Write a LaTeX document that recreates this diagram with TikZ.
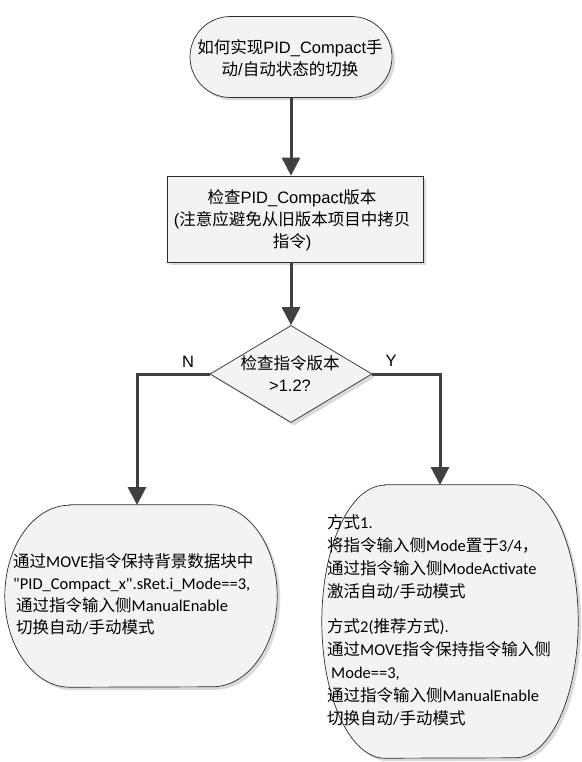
\documentclass[tikz,border=0pt]{standalone}
\usepackage{fontspec}
\newfontfamily\calf{Carlito}
\newfontfamily\arialf{Liberation Sans}
\newfontfamily\cjkf{Noto Sans CJK SC}
\newcommand\C[1]{{\cjkf #1}}
\usetikzlibrary{arrows.meta,shapes.geometric,shapes.misc,shadows,calc}
\definecolor{boxfill}{RGB}{242,243,242}
\definecolor{boxline}{RGB}{45,45,45}
\definecolor{shadowc}{RGB}{218,218,218}
\definecolor{connc}{RGB}{64,64,64}
\tikzset{
  shapebox/.style={fill=boxfill, draw=boxline, line width=0.7pt,
    drop shadow={shadow xshift=3pt, shadow yshift=-3pt, fill=shadowc, opacity=1}},
  conn/.style={draw=connc, line width=3pt, -{Triangle[width=18pt,length=18pt]}},
  txt/.style={font=\fontsize{16.5pt}{22pt}\selectfont\calf, inner sep=0pt},
  atxt/.style={inner sep=0pt, font=\fontsize{16.5pt}{22pt}\selectfont\arialf},
}
\begin{document}
\begin{tikzpicture}[x=1pt,y=1pt]
\useasboundingbox (0,0) rectangle (581,-762);

% top terminator
\node[shapebox, rounded rectangle, minimum width=202pt, minimum height=81pt, inner sep=0pt] (T) at (291,-57) {};
\node[atxt, align=center] (Tt) at (290,-58) {\C{如何实现}PID\_Compact\C{手}\\\C{动}/\C{自动状态的切换}};

% rectangle
\node[shapebox, rectangle, minimum width=256pt, minimum height=86pt, inner sep=0pt] (B) at (295,-219) {};
\node[atxt, align=center] (Bt) at (292,-220) {\C{检查}PID\_Compact\C{版本}\\(\C{注意应避免从旧版本项目中拷贝}\\\C{指令})};

% diamond
\node[shapebox, diamond, aspect=1.67, minimum width=162pt, minimum height=97pt, inner sep=0pt] (D) at (291,-374) {};
\node[atxt, align=center] (Dt) at (290,-374) {\C{检查指令版本}\\>1.2?};

% labels
\node[atxt] (N) at (188,-362) {N};
\node[atxt] (Y) at (391,-361) {Y};

% left result
\node[minimum width=272pt, minimum height=182pt, inner sep=0pt] (L) at (141,-596) {};
\path[shapebox] ($(L.north west)+(65,0)$) -- ($(L.north east)+(-65,0)$)
  arc[start angle=90, end angle=-90, x radius=65pt, y radius=91pt]
  -- ($(L.south west)+(65,0)$)
  arc[start angle=270, end angle=90, x radius=65pt, y radius=91pt] -- cycle;
\node[txt, align=left, anchor=west] (Lt) at (13,-594) {\C{通过}MOVE\C{指令保持背景数据块中}\\"PID\_Compact\_x".sRet.i\_Mode==3,\\\hspace*{3pt}\C{通过指令输入侧}ManualEnable\\\hspace*{3pt}\C{切换自动}/\C{手动模式}};

% right result
\node[minimum width=256pt, minimum height=273pt, inner sep=0pt] (R) at (450,-621.5) {};
\path[shapebox] ($(R.north west)+(63,0)$) -- ($(R.north east)+(-63,0)$)
  arc[start angle=90, end angle=-90, x radius=63pt, y radius=136.5pt]
  -- ($(R.south west)+(63,0)$)
  arc[start angle=270, end angle=90, x radius=63pt, y radius=136.5pt] -- cycle;
\node[txt, align=left, anchor=west, font=\fontsize{16.5pt}{23pt}\selectfont\calf] (Rt) at (327,-620) {\C{方式}1.\\\C{将指令输入侧}Mode\C{置于}3/4\C{，}\\\C{通过指令输入侧}ModeActivate\\\C{激活自动}/\C{手动模式}\\[12pt]\C{方式}2(\C{推荐方式}).\\\C{通过}MOVE\C{指令保持指令输入侧}\\\hspace*{4pt}Mode==3,\\\C{通过指令输入侧}ManualEnable\\\C{切换自动}/\C{手动模式}};

% connectors
\coordinate (Lin) at (137,-505);
\coordinate (Rin) at (440,-485);
\draw[conn] (T.south) -- (T.south |- B.north);
\draw[conn] (D.north |- B.south) -- (D.north);
\draw[conn] (D.west) -| (Lin);
\draw[conn] (D.east) -| (Rin);
\end{tikzpicture}
\end{document}
